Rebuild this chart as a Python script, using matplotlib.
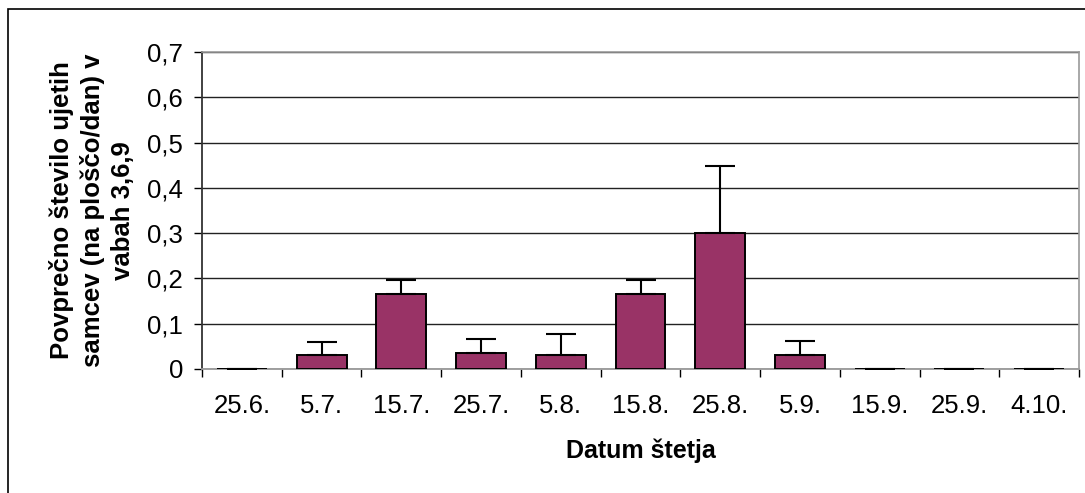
import numpy as np
import matplotlib.pyplot as plt
from matplotlib.patches import Rectangle
from matplotlib.ticker import FuncFormatter

plt.rcParams['font.family'] = ['Liberation Sans', 'DejaVu Sans']

dates = ['25.6.', '5.7.', '15.7.', '25.7.', '5.8.', '15.8.', '25.8.', '5.9.', '15.9.', '25.9.', '4.10.']
means = [0, 0.03, 0.165, 0.035, 0.03, 0.165, 0.30, 0.03, 0, 0, 0]
errs = [0, 0.03, 0.031, 0.031, 0.048, 0.031, 0.148, 0.032, 0, 0, 0]

W, H = 1085, 493
fig = plt.figure(figsize=(W / 100, H / 100), dpi=100)

# outer chart frame (only left and top visible)
fig.patches.append(Rectangle((8 / W, -0.1), 1.2, (H - 9) / H + 0.1, transform=fig.transFigure,
                             fill=False, edgecolor='black', linewidth=1.2))

L, R, T, B = 202, 1079, 52, 369
ax = fig.add_axes([L / W, 1 - B / H, (R - L) / W, (B - T) / H])

x = np.arange(len(dates))
ax.bar(x, means, width=0.625, color='#993366', edgecolor='black', linewidth=1.4, zorder=3)
ax.errorbar(x, means, yerr=[np.zeros(len(errs)), errs], fmt='none', ecolor='black',
            elinewidth=1.5, capsize=11, capthick=1.5, zorder=4)

ax.set_xlim(-0.5, len(dates) - 0.5)
ax.set_ylim(0, 0.7)
ax.set_yticks(np.arange(0, 0.71, 0.1))
ax.yaxis.set_major_formatter(FuncFormatter(lambda v, p: f'{v:.1f}'.replace('.', ',') if v > 0 else '0'))
ax.set_xticks(x)
ax.set_xticklabels(dates)
ax.set_xticks(np.arange(-0.5, len(dates), 1), minor=True)
ax.tick_params(axis='x', which='major', length=0, pad=18, labelsize=18.5)
ax.tick_params(axis='x', which='minor', length=5.5, width=1, color='black', direction='out')
ax.tick_params(axis='y', length=5.5, width=1, direction='out', labelsize=18.5, pad=8)

ax.grid(axis='y', color='#222222', linewidth=1, zorder=0)
for s in ['top', 'right']:
    ax.spines[s].set_color('#999999')
    ax.spines[s].set_linewidth(1.2)
ax.spines['left'].set_color('#333333')
ax.spines['left'].set_linewidth(1.3)
ax.spines['bottom'].set_color('#999999')
ax.spines['bottom'].set_linewidth(1.3)

ax.set_xlabel('Datum štetja', fontsize=18, fontweight='bold', labelpad=15)
ax.set_ylabel('Povprečno število ujetih\nsamcev (na ploščo/dan) v\nvabah 3,6,9', fontsize=18.5,
              fontweight='bold', labelpad=9, linespacing=1.3)

fig.savefig('out.png', dpi=100)
